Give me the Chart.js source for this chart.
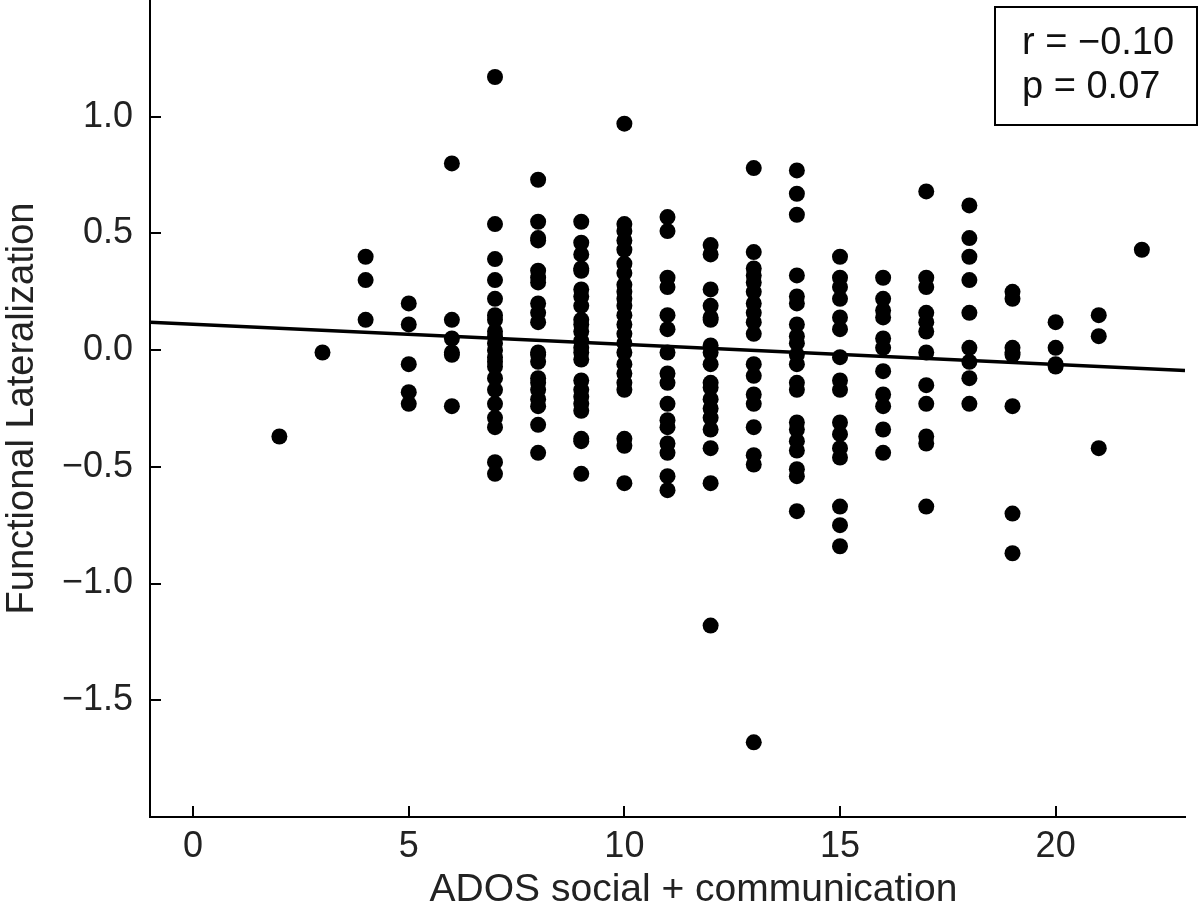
<!DOCTYPE html>
<html>
<head>
<meta charset="utf-8">
<script src="https://cdn.jsdelivr.net/npm/chart.js@4.4.1/dist/chart.umd.min.js"></script>
<style>
  html, body { margin: 0; padding: 0; background: #fff; }
  #wrap { width: 1200px; height: 921px; }
</style>
</head>
<body>
<div id="wrap"><canvas id="scatterChart"></canvas></div>
<script>
// ADOS score columns and the lateralization values
var adosScores = [2, 3, 4, 5, 6, 7, 8, 9, 10, 11, 12, 13, 14, 15, 16, 17, 18, 19, 20, 21, 22];
var lateralization = [
    [-0.37],
    [-0.01],
    [0.40, 0.30, 0.13],
    [0.20, 0.11, -0.06, -0.18, -0.23],
    [0.80, 0.13, 0.05, -0.01, -0.02, -0.24],
    [1.17, 0.54, 0.39, 0.30, 0.22, 0.15, 0.13, 0.08, 0.06, 0.03, 0.00, -0.03, -0.05, -0.07, -0.12, -0.17, -0.23, -0.29, -0.33, -0.48, -0.53],
    [0.73, 0.55, 0.48, 0.47, 0.34, 0.31, 0.29, 0.20, 0.16, 0.12, -0.01, -0.02, -0.05, -0.12, -0.14, -0.17, -0.21, -0.24, -0.32, -0.44],
    [0.55, 0.46, 0.41, 0.35, 0.34, 0.26, 0.23, 0.19, 0.13, 0.11, 0.08, 0.04, 0.01, -0.01, -0.04, -0.13, -0.17, -0.20, -0.23, -0.26, -0.38, -0.39, -0.53],
    [0.97, 0.54, 0.51, 0.47, 0.43, 0.37, 0.33, 0.28, 0.25, 0.22, 0.19, 0.15, 0.11, 0.07, 0.03, -0.01, -0.06, -0.10, -0.14, -0.17, -0.38, -0.41, -0.57],
    [0.57, 0.51, 0.31, 0.27, 0.15, 0.09, -0.01, -0.10, -0.14, -0.23, -0.30, -0.33, -0.40, -0.44, -0.54, -0.60],
    [0.45, 0.41, 0.26, 0.19, 0.14, 0.13, 0.02, -0.01, -0.06, -0.14, -0.16, -0.21, -0.25, -0.29, -0.34, -0.42, -0.57, -1.18],
    [0.78, 0.42, 0.35, 0.32, 0.29, 0.25, 0.20, 0.16, 0.12, 0.07, -0.06, -0.11, -0.19, -0.23, -0.33, -0.45, -0.49, -1.68],
    [0.77, 0.67, 0.58, 0.32, 0.23, 0.20, 0.11, 0.06, 0.03, -0.02, -0.06, -0.14, -0.17, -0.31, -0.34, -0.39, -0.43, -0.51, -0.54, -0.69],
    [0.40, 0.31, 0.27, 0.22, 0.14, 0.09, -0.03, -0.13, -0.17, -0.31, -0.36, -0.42, -0.46, -0.67, -0.75, -0.84],
    [0.31, 0.22, 0.17, 0.14, 0.05, 0.01, -0.09, -0.19, -0.24, -0.34, -0.44],
    [0.68, 0.31, 0.27, 0.16, 0.12, 0.08, -0.01, -0.15, -0.23, -0.37, -0.40, -0.67],
    [0.62, 0.48, 0.40, 0.30, 0.16, 0.01, -0.05, -0.12, -0.23],
    [0.25, 0.22, 0.01, -0.01, -0.02, -0.24, -0.70, -0.87],
    [0.12, 0.01, -0.06, -0.07],
    [0.15, 0.06, -0.42],
    [0.43]
];

// fitted line end points
var fitX = [-1, 23];
var fitY = [0.12, -0.087];

var xTicks = [0, 5, 10, 15, 20];
var yTicks = [-1.5, -1.0, -0.5, 0.0, 0.5, 1.0];
var statsLines = ['r = \u22120.10', 'p = 0.07'];

var xTitle = 'ADOS social + communication';
var yTitle = 'Functional Lateralization';

var FONT = '"Liberation Sans", Arial, Helvetica, sans-serif';

var points = [];
adosScores.forEach(function (s, i) {
    lateralization[i].forEach(function (v) {
        points.push({ x: s, y: v });
    });
});

var fitLine = fitX.map(function (x, i) { return { x: x, y: fitY[i] }; });

// ticks point inward, drawn from the scales
var innerTicks = {
    id: 'innerTicks',
    afterDatasetsDraw: function (chart) {
        var ctx = chart.ctx, xs = chart.scales.x, ys = chart.scales.y, a = chart.chartArea;
        ctx.save();
        ctx.strokeStyle = '#000';
        ctx.lineWidth = 2;
        ctx.beginPath();
        xTicks.forEach(function (v) {
            var px = Math.round(xs.getPixelForValue(v));
            ctx.moveTo(px, a.bottom);
            ctx.lineTo(px, a.bottom - 11);
        });
        yTicks.forEach(function (v) {
            var py = Math.round(ys.getPixelForValue(v));
            ctx.moveTo(a.left, py);
            ctx.lineTo(a.left + 11, py);
        });
        ctx.stroke();
        ctx.restore();
    }
};

var statsBox = {
    id: 'statsBox',
    afterDraw: function (chart) {
        var ctx = chart.ctx;
        ctx.save();
        ctx.fillStyle = '#fff';
        ctx.fillRect(995, 7, 202, 118);
        ctx.strokeStyle = '#000';
        ctx.lineWidth = 2;
        ctx.strokeRect(995, 7, 202, 118);
        ctx.fillStyle = '#111';
        ctx.font = '38px ' + FONT;
        ctx.textAlign = 'left';
        ctx.textBaseline = 'alphabetic';
        statsLines.forEach(function (t, i) {
            ctx.fillText(t, 1022, 54 + i * 44);
        });
        ctx.restore();
    }
};

var xAxisTitle = {
    id: 'xAxisTitle',
    afterDraw: function (chart) {
        var ctx = chart.ctx, a = chart.chartArea;
        ctx.save();
        ctx.fillStyle = '#222';
        ctx.font = '39px ' + FONT;
        ctx.textAlign = 'center';
        ctx.textBaseline = 'middle';
        ctx.fillText(xTitle, (a.left + a.right) / 2 + 26, 890);
        ctx.restore();
    }
};

new Chart('scatterChart', {
    type: 'scatter',
    data: {
        datasets: [{
            data: points,
            backgroundColor: '#000',
            borderWidth: 0,
            pointRadius: 8,
            pointHoverRadius: 8
        }, {
            type: 'line',
            data: fitLine,
            borderColor: '#000',
            borderWidth: 3.5,
            pointRadius: 0,
            fill: false
        }]
    },
    options: {
        responsive: true,
        maintainAspectRatio: false,
        animation: false,
        layout: { autoPadding: false, padding: { left: 0, right: 15, top: 0, bottom: 0 } },
        plugins: {
            legend: { display: false },
            tooltip: { enabled: false }
        },
        scales: {
            x: {
                type: 'linear',
                min: -1,
                max: 23,
                grid: { display: false, drawTicks: false },
                border: { display: true, color: '#000', width: 2 },
                afterBuildTicks: function (s) { s.ticks = xTicks.map(function (v) { return { value: v }; }); },
                afterFit: function (s) { s.height = 104; s.paddingLeft = 0; s.paddingRight = 0; },
                ticks: {
                    padding: 8,
                    color: '#222',
                    font: { family: FONT, size: 36 },
                    maxRotation: 0
                }
            },
            y: {
                type: 'linear',
                min: -2,
                max: 1.5,
                grid: { display: false, drawTicks: false },
                border: { display: true, color: '#000', width: 2 },
                afterBuildTicks: function (s) { s.ticks = yTicks.map(function (v) { return { value: v }; }); },
                afterFit: function (s) { s.width = 150; s.paddingTop = 0; s.paddingBottom = 0; },
                title: {
                    display: true,
                    text: yTitle,
                    color: '#222',
                    font: { family: FONT, size: 38 },
                    padding: { top: 0, bottom: 0 }
                },
                ticks: {
                    padding: 17,
                    color: '#222',
                    font: { family: FONT, size: 36 },
                    callback: function (v) { return (v < 0 ? '\u2212' : '') + Math.abs(v).toFixed(1); }
                }
            }
        }
    },
    plugins: [innerTicks, statsBox, xAxisTitle]
});
</script>
</body>
</html>
